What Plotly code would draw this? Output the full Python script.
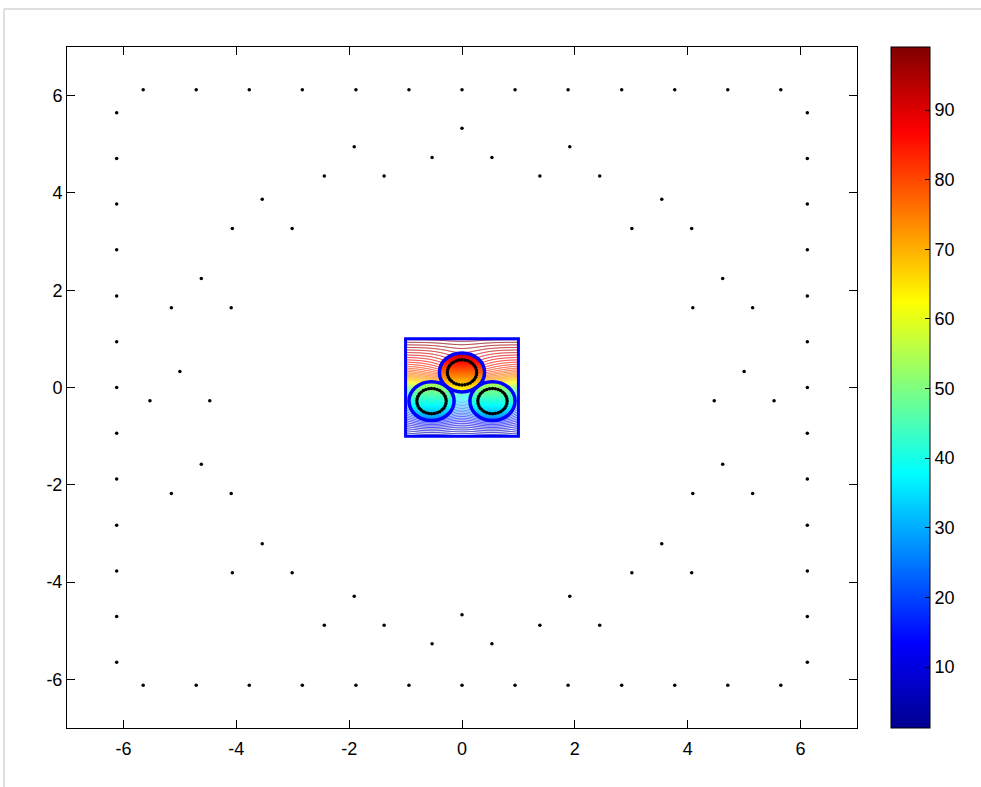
import numpy as np
import plotly.graph_objects as go

# ---------------------------------------------------------------------------
# Boundary nodes
# ---------------------------------------------------------------------------
# outer square boundary (half width) and node positions along each side
box_half = 6.12
side_nodes = [-5.65, -4.71, -3.77, -2.83, -1.88, -0.94, 0.0,
              0.94, 1.88, 2.83, 3.77, 4.71, 5.65]

# intermediate boundary rings, one around each cable (16 nodes each)
ring_top_x = [5.00, 4.62, 3.54, 1.91, 0.00, -1.91, -3.54, -4.62,
              -5.00, -4.62, -3.54, -1.91, 0.00, 1.91, 3.54, 4.62]
ring_top_y = [0.33, 2.24, 3.87, 4.95, 5.33, 4.95, 3.87, 2.24,
              0.33, -1.58, -3.21, -4.29, -4.67, -4.29, -3.21, -1.58]
ring_left_x = [4.47, 4.09, 3.01, 1.38, -0.53, -2.44, -4.07, -5.15,
               -5.53, -5.15, -4.07, -2.44, -0.53, 1.38, 3.01, 4.09]
ring_left_y = [-0.27, 1.64, 3.27, 4.35, 4.73, 4.35, 3.27, 1.64,
               -0.27, -2.18, -3.81, -4.89, -5.27, -4.89, -3.81, -2.18]
ring_right_x = [5.53, 5.15, 4.07, 2.44, 0.53, -1.38, -3.01, -4.09,
                -4.47, -4.09, -3.01, -1.38, 0.53, 2.44, 4.07, 5.15]
ring_right_y = [-0.27, 1.64, 3.27, 4.35, 4.73, 4.35, 3.27, 1.64,
                -0.27, -2.18, -3.81, -4.89, -5.27, -4.89, -3.81, -2.18]

# ---------------------------------------------------------------------------
# Cable cross-section (inner window [-1, 1] x [-1, 1])
# ---------------------------------------------------------------------------
window_half = 1.0
cable_cx = [0.0, -0.54, 0.54]
cable_cy = [0.31, -0.28, -0.28]
cable_radius = 0.40
node_radius = 0.26
nodes_per_cable = 32
core_level = [77.0, 41.0, 41.0]     # value at each cable centre
core_slope = [40.0, 38.0, 38.0]     # vertical gradient inside each cable
bump_amp = [7.0, 15.0, 15.0]        # local rise of the field around each cable
bump_width = 0.45

# background vertical profile of the field in the window
bg_mean, bg_linear, bg_step, bg_step_y, bg_step_w = 50.0, 28.0, 20.0, 0.05, 0.25

# colour range and colourbar ticks
cmin, cmax = 1.24, 99.05
cbar_ticks = [10, 20, 30, 40, 50, 60, 70, 80, 90]
axis_ticks = [-6, -4, -2, 0, 2, 4, 6]
axis_labels = ["-6", "-4", "-2", "0", "2", "4", "6"]

jet = [[0.0, "rgb(0,0,143)"], [0.125, "rgb(0,0,255)"], [0.375, "rgb(0,255,255)"],
       [0.625, "rgb(255,255,0)"], [0.875, "rgb(255,0,0)"], [1.0, "rgb(128,0,0)"]]

# ---------------------------------------------------------------------------
# Field on a grid
# ---------------------------------------------------------------------------
g = np.linspace(-window_half, window_half, 261)
X, Y = np.meshgrid(g, g)
field = bg_mean + bg_linear * Y + bg_step * np.tanh((Y - bg_step_y) / bg_step_w)
inside_any = np.zeros_like(X, dtype=bool)
cores = np.full_like(X, np.nan)
for cx, cy, a, lvl, slope in zip(cable_cx, cable_cy, bump_amp, core_level, core_slope):
    r2 = (X - cx) ** 2 + (Y - cy) ** 2
    field += a * np.exp(-r2 / bump_width ** 2)
    inside = r2 <= cable_radius ** 2
    inside_any |= inside
    cores[inside] = lvl + slope * (Y[inside] - cy)

outside_field = np.where(inside_any, np.nan, field)

fig = go.Figure()

fig.add_trace(go.Contour(
    x=g, y=g, z=outside_field,
    colorscale=jet, zmin=cmin, zmax=cmax, zauto=False,
    contours=dict(coloring="lines", start=1.5, end=98.0, size=1.5, showlabels=False),
    line=dict(width=0.9), showscale=False, hoverinfo="skip",
))

fig.add_trace(go.Heatmap(
    x=g, y=g, z=cores,
    colorscale=jet, zmin=cmin, zmax=cmax, zauto=False, hoverinfo="skip",
    colorbar=dict(
        thickness=39, thicknessmode="pixels", len=1, lenmode="fraction",
        x=(891 - 67) / 790, xanchor="left", y=0.5, yanchor="middle",
        xpad=0, ypad=0, outlinecolor="black", outlinewidth=1,
        ticks="inside", ticklen=5, tickcolor="black", tickvals=cbar_ticks,
        tickfont=dict(family="Liberation Sans, Arial, sans-serif", size=18, color="black"),
    ),
))

# node rings on each cable
for cx, cy in zip(cable_cx, cable_cy):
    ang = np.linspace(0, 2 * np.pi, nodes_per_cable, endpoint=False)
    fig.add_trace(go.Scatter(
        x=cx + node_radius * np.cos(ang), y=cy + node_radius * np.sin(ang),
        mode="markers", marker=dict(size=3.5, color="black"),
        hoverinfo="skip", showlegend=False,
    ))

# outer square nodes
n = len(side_nodes)
sq_x = side_nodes + side_nodes + [-box_half] * n + [box_half] * n
sq_y = [box_half] * n + [-box_half] * n + side_nodes + side_nodes
fig.add_trace(go.Scatter(
    x=sq_x + ring_top_x + ring_left_x + ring_right_x,
    y=sq_y + ring_top_y + ring_left_y + ring_right_y,
    mode="markers", marker=dict(size=3.5, color="black"),
    hoverinfo="skip", showlegend=False,
))

shapes = [dict(type="rect", xref="x", yref="y", x0=-window_half, x1=window_half,
               y0=-window_half, y1=window_half, line=dict(color="rgb(0,0,255)", width=3))]
for cx, cy in zip(cable_cx, cable_cy):
    shapes.append(dict(type="circle", xref="x", yref="y",
                       x0=cx - cable_radius, x1=cx + cable_radius,
                       y0=cy - cable_radius, y1=cy + cable_radius,
                       line=dict(color="rgb(0,0,255)", width=3.5)))
# colourbar ticks on the left edge of the bar
cb_x0 = (891 - 67) / 790
for v in cbar_ticks:
    yp = (v - cmin) / (cmax - cmin)
    shapes.append(dict(type="line", xref="paper", yref="paper",
                       x0=cb_x0, x1=cb_x0 + 5 / 790, y0=yp, y1=yp,
                       line=dict(color="black", width=1)))
# page frame
fx, fy = (4 - 67) / 790, (728 - 9) / 681
shapes.append(dict(type="line", xref="paper", yref="paper", x0=fx, x1=1.2, y0=fy, y1=fy,
                   line=dict(color="#d4d4d4", width=1.5)))
shapes.append(dict(type="line", xref="paper", yref="paper", x0=fx, x1=fx, y0=fy, y1=-0.1,
                   line=dict(color="#d4d4d4", width=1.5)))

axis_common = dict(
    showgrid=False, zeroline=False, showline=True, linecolor="black", linewidth=1,
    mirror="ticks", ticks="inside", ticklen=8, tickcolor="black",
    tickvals=axis_ticks, ticktext=axis_labels,
    tickfont=dict(family="Liberation Sans, Arial, sans-serif", size=18, color="black"),
)

fig.update_layout(
    width=981, height=787,
    margin=dict(l=67, r=124, t=47, b=59),
    paper_bgcolor="white", plot_bgcolor="white",
    font=dict(family="Liberation Sans, Arial, sans-serif", size=18, color="black"),
    showlegend=False,
    xaxis=dict(range=[-7, 7], ticklabelstandoff=4, **axis_common),
    yaxis=dict(range=[-7, 7], **axis_common),
    shapes=shapes,
)

fig.write_html("out.html")
